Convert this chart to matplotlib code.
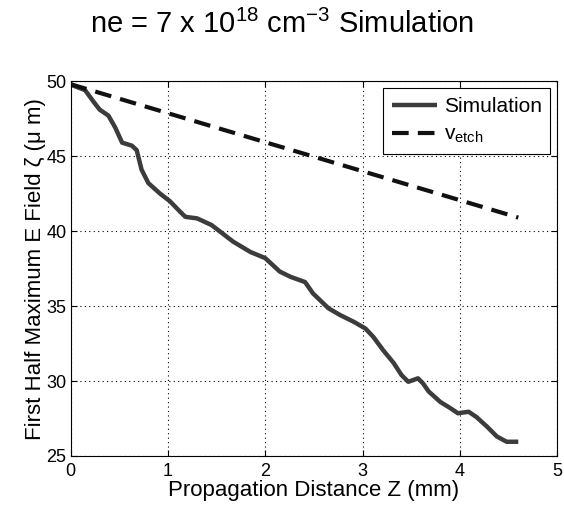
import matplotlib
matplotlib.use("Agg")
import matplotlib.pyplot as plt

plt.rcParams['font.family'] = ['Liberation Sans', 'DejaVu Sans']
plt.rcParams['mathtext.default'] = 'regular'

# Simulation curve (propagation distance in mm, field position in um)
sim_z = [0.0, 0.03, 0.15, 0.24, 0.30, 0.39, 0.46, 0.53, 0.63, 0.68, 0.73, 0.80, 0.92,
         1.02, 1.11, 1.18, 1.30, 1.45, 1.57, 1.67, 1.85, 2.00, 2.15, 2.26, 2.41, 2.49,
         2.65, 2.77, 2.91, 3.03, 3.11, 3.21, 3.32, 3.40, 3.47, 3.57, 3.62, 3.68, 3.80,
         3.90, 3.98, 4.09, 4.17, 4.28, 4.38, 4.48, 4.60]
sim_xi = [49.8, 49.7, 49.4, 48.6, 48.1, 47.7, 46.9, 45.9, 45.7, 45.4, 44.1, 43.2, 42.5,
          42.0, 41.4, 40.95, 40.85, 40.4, 39.8, 39.3, 38.6, 38.2, 37.3, 36.95, 36.6, 35.85,
          34.85, 34.4, 33.95, 33.5, 32.95, 32.07, 31.2, 30.4, 29.95, 30.18, 29.85, 29.3, 28.6,
          28.2, 27.85, 27.95, 27.6, 26.95, 26.3, 25.95, 25.95]

# v_etch reference line
etch_z = [0.0, 4.6]
etch_xi = [49.8, 40.9]

xticks = [0, 1, 2, 3, 4, 5]
yticks = [25, 30, 35, 40, 45, 50]

fig = plt.figure(figsize=(5.64, 5.17), dpi=100)
ax = fig.add_axes([0.125, 0.118, 0.863, 0.725])

ax.plot(sim_z, sim_xi, color='#3c3c3c', lw=3.2, label='Simulation', solid_capstyle='butt')
ax.plot(etch_z, etch_xi, color='#111111', lw=3.0, ls=(0, (4, 2.2)), label=r'v$_{etch}$')

ax.set_xlim(0, 5)
ax.set_ylim(25, 50)
ax.set_xticks(xticks)
ax.set_yticks(yticks)
ax.tick_params(direction='in', length=4, labelsize=13, top=True, right=True, pad=3)
ax.tick_params(axis='x', pad=5)
ax.grid(True, color='black', ls=(0, (1, 3)), lw=0.8)
for s in ax.spines.values():
    s.set_linewidth(0.8)

ax.set_xlabel('Propagation Distance Z (mm)', fontsize=16, labelpad=0)
ax.set_ylabel('First Half Maximum E Field ζ (μ m)', fontsize=16, labelpad=0)
fig.text(0.5, 0.952, r'ne = 7 x 10$^{18}$ cm$^{-3}$ Simulation', ha='center', va='center', fontsize=21)

leg = ax.legend(loc='upper right', fontsize=15, fancybox=False, framealpha=1,
                edgecolor='black', handlelength=2.2, handletextpad=0.3,
                borderaxespad=0.35, labelspacing=0.45, borderpad=0.4)
leg.get_frame().set_linewidth(0.8)

fig.savefig('out.png', dpi=100)
